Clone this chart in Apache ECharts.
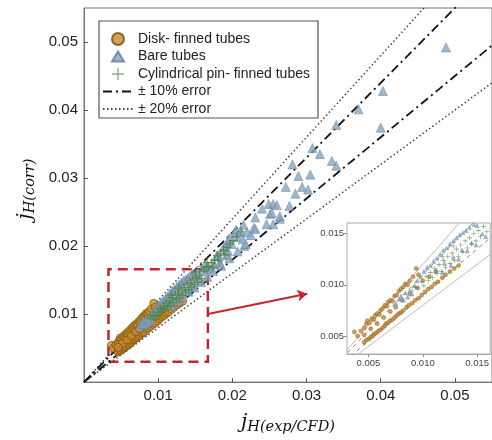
<!DOCTYPE html>
<html>
<head>
<meta charset="utf-8">
<script src="https://cdn.jsdelivr.net/npm/echarts@6/dist/echarts.min.js"></script>
<style>html,body{margin:0;padding:0;background:#fff;}#c{width:492px;height:440px;}</style>
</head>
<body>
<div id="c"></div>
<script>
// ---- data ----
const disk = [
  [0.0037,0.0054],[0.0040,0.0050],[0.0043,0.0055],[0.0046,0.0058],[0.0048,0.0062],[0.0049,0.0065],
  [0.0051,0.0063],[0.0053,0.0067],[0.0055,0.0066],[0.0056,0.0070],[0.0058,0.0072],[0.0060,0.0071],
  [0.0061,0.0075],[0.0063,0.0077],[0.0065,0.0080],[0.0067,0.0079],[0.0068,0.0083],[0.0070,0.0085],
  [0.0072,0.0084],[0.0074,0.0089],[0.0076,0.0090],[0.0078,0.0094],[0.0080,0.0096],[0.0082,0.0098],
  [0.0084,0.0101],[0.0086,0.0100],[0.0088,0.0104],[0.0091,0.0108],[0.0094,0.0116],[0.0096,0.0110],
  [0.0046,0.0044],[0.0048,0.0046],[0.0050,0.0047],[0.0052,0.0049],[0.0054,0.0050],[0.0055,0.0052],
  [0.0057,0.0053],[0.0059,0.0055],[0.0061,0.0056],[0.0063,0.0058],[0.0065,0.0060],[0.0066,0.0062],
  [0.0068,0.0063],[0.0070,0.0065],[0.0072,0.0066],[0.0074,0.0068],[0.0076,0.0070],[0.0078,0.0072],
  [0.0080,0.0073],[0.0082,0.0075],[0.0085,0.0078],[0.0087,0.0080],[0.0090,0.0082],[0.0093,0.0085],
  [0.0096,0.0087],[0.0099,0.0090],[0.0102,0.0093],[0.0105,0.0096],[0.0108,0.0098],[0.0111,0.0101],
  [0.0114,0.0103],[0.0118,0.0107],[0.0121,0.0110],[0.0125,0.0113],[0.0129,0.0116],[0.0133,0.0119],
  [0.0052,0.0057],[0.0058,0.0062],[0.0064,0.0068],[0.0070,0.0074],[0.0075,0.0078],[0.0081,0.0085],
  [0.0088,0.0091],[0.0095,0.0097],[0.0100,0.0104],[0.0106,0.0108],[0.0112,0.0113],[0.0046,0.0051]
];
const bare = [
  [0.0075,0.0082],[0.0078,0.0086],[0.0080,0.0089],[0.0082,0.0085],[0.0084,0.0092],[0.0086,0.0088],
  [0.0088,0.0094],[0.0090,0.0091],[0.0092,0.0099],[0.0095,0.0104],[0.0098,0.0108],[0.0101,0.0113],
  [0.0104,0.0117],[0.0107,0.0119],[0.0110,0.0123],[0.0113,0.0126],[0.0116,0.0130],[0.0119,0.0134],
  [0.0122,0.0136],[0.0125,0.0140],[0.0128,0.0143],[0.0131,0.0146],[0.0134,0.0149],[0.0137,0.0151],
  [0.0140,0.0153],[0.0143,0.0156],[0.0147,0.0159],[0.0150,0.0158],[0.0153,0.0161],[0.0112,0.0114],
  [0.0120,0.0121],[0.0128,0.0127],[0.0136,0.0134],[0.0145,0.0141],[0.0155,0.0150],[0.0160,0.0166],
  [0.0163,0.0172],[0.0167,0.0169],[0.0170,0.0166],[0.0175,0.0173],[0.0183,0.0176],[0.0179,0.0186],
  [0.0181,0.0186],[0.0192,0.0187],[0.0190,0.0198],[0.0188,0.0198],[0.0194,0.0193],[0.0194,0.0206],
  [0.0199,0.0203],[0.0216,0.0200],[0.0203,0.0219],[0.0207,0.0213],[0.0211,0.0222],[0.0214,0.0210],
  [0.0220,0.0220],[0.0225,0.0216],[0.0229,0.0227],[0.0231,0.0225],[0.0231,0.0242],[0.0255,0.0232],
  [0.0251,0.0247],[0.0264,0.0240],[0.0264,0.0244],[0.0253,0.0249],[0.0249,0.0262],[0.0255,0.0262],
  [0.0260,0.0260],[0.0277,0.0259],[0.0285,0.0277],[0.0294,0.0287],[0.0302,0.0283],[0.0305,0.0305],
  [0.0281,0.0320],[0.0334,0.0325],[0.0340,0.0318],[0.0308,0.0344],[0.0340,0.0378],[0.0400,0.0374],
  [0.0370,0.0401],[0.0403,0.0428],[0.0488,0.0492],
  [0.0118,0.0112],[0.0126,0.0119],[0.0133,0.0125],[0.0141,0.0133],[0.0149,0.0139],[0.0158,0.0147],
  [0.0166,0.0155],[0.0174,0.0163],[0.0185,0.0171],[0.0196,0.0182],[0.0207,0.0192],[0.0218,0.0203],
  [0.0196,0.0212],[0.0205,0.0224],[0.0215,0.0231],[0.0240,0.0255],[0.0246,0.0232],[0.0272,0.0287],
  [0.0289,0.0303],[0.0318,0.0335]
];
const pin = [
  [0.0090,0.0094],[0.0093,0.0098],[0.0096,0.0097],[0.0099,0.0103],[0.0101,0.0099],[0.0103,0.0108],
  [0.0105,0.0104],[0.0107,0.0112],[0.0109,0.0107],[0.0111,0.0116],[0.0113,0.0111],[0.0115,0.0120],
  [0.0117,0.0113],[0.0119,0.0124],[0.0121,0.0117],[0.0123,0.0128],[0.0125,0.0121],[0.0127,0.0131],
  [0.0129,0.0124],[0.0131,0.0135],[0.0133,0.0128],[0.0135,0.0139],[0.0137,0.0132],[0.0139,0.0143],
  [0.0141,0.0136],[0.0143,0.0146],[0.0145,0.0140],[0.0147,0.0150],[0.0149,0.0143],[0.0151,0.0153],
  [0.0153,0.0147],[0.0156,0.0157],[0.0159,0.0152],[0.0162,0.0163],[0.0165,0.0168],[0.0168,0.0170],
  [0.0172,0.0175],[0.0176,0.0179],[0.0180,0.0186],[0.0184,0.0189],[0.0188,0.0194],[0.0193,0.0198],
  [0.0197,0.0203],[0.0201,0.0208],
  [0.0150,0.0162],[0.0158,0.0170],[0.0166,0.0176],[0.0174,0.0169],[0.0182,0.0178],[0.0190,0.0187],
  [0.0206,0.0214],[0.0212,0.0221],[0.0128,0.0138],[0.0118,0.0128]
];
// error lines (y = 1.1x, 0.9x, 1.2x, 0.8x) as end points
const line10Up = [[0, 0], [0.06, 0.066]];
const line10Lo = [[0, 0], [0.06, 0.054]];
const line20Up = [[0, 0], [0.06, 0.072]];
const line20Lo = [[0, 0], [0.06, 0.048]];
// tick labels
const mainTicks = [0.01, 0.02, 0.03, 0.04, 0.05];
const insetTicks = [0.005, 0.010, 0.015];
// zoom box and arrow (data coords)
const zoomBox = [[0.0033, 0.0030], [0.0167, 0.0166]];
const arrowPts = [[0.0167, 0.0100], [0.0301, 0.0130]];

const names = ['Disk- finned tubes', 'Bare tubes', 'Cylindrical pin- finned tubes', '\u00b1 10% error', '\u00b1 20% error'];
const cOrange = '#c98a2c', cOrangeB = '#6e4d12';
const cBlue = '#86a5c0', cBlueB = '#5c7c98';
const cGreen = '#4f8240';
const plusPath = 'path://M4.4,0 L5.6,0 L5.6,4.4 L10,4.4 L10,5.6 L5.6,5.6 L5.6,10 L4.4,10 L4.4,5.6 L0,5.6 L0,4.4 L4.4,4.4 Z';
const triPath = 'path://M0,0 M6.5,1 L12.5,11 L0.5,11 Z M13,12';

const serifName = {
  j: {fontFamily: 'DejaVu Serif', fontStyle: 'italic', fontSize: 20, lineHeight: 22, verticalAlign: 'top', color: '#111'},
  s: {fontFamily: 'DejaVu Serif', fontStyle: 'italic', fontSize: 14.5, lineHeight: 15, padding: [12, 0, 0, 0], verticalAlign: 'bottom', color: '#111'}
};
const hide = {color: 'rgba(0,0,0,0)', borderColor: 'rgba(0,0,0,0)', opacity: 0};

const chart = echarts.init(document.getElementById('c'), null, {renderer: 'canvas'});
chart.setOption({
  animation: false,
  backgroundColor: '#fff',
  textStyle: {fontFamily: 'Liberation Sans'},
  grid: [
    {left: 84, top: 8, right: -14, bottom: 57, show: true, borderColor: '#777', borderWidth: 1, backgroundColor: 'transparent'},
    {left: 347, top: 223, right: -4, bottom: 86, show: true, borderColor: '#aaa', borderWidth: 1, backgroundColor: '#fff', z: 5}
  ],
  xAxis: [
    {gridIndex: 0, type: 'value', min: 0, max: 0.055,
     name: '{j|j}{s|H(exp/CFD)}', nameLocation: 'middle', nameGap: 27,
     nameTextStyle: {rich: serifName},
     axisLine: {show: true, lineStyle: {color: '#777'}},
     axisTick: {show: true, inside: true, length: 4, customValues: mainTicks, lineStyle: {color: '#555'}},
     axisLabel: {customValues: mainTicks, formatter: v => v.toFixed(2), fontSize: 15, color: '#222', margin: 6},
     splitLine: {show: false}},
    {gridIndex: 1, type: 'value', min: 0.00302, max: 0.0162,
     axisLine: {show: true, lineStyle: {color: '#aaa'}},
     axisTick: {show: true, length: 3, customValues: insetTicks, lineStyle: {color: '#888'}},
     axisLabel: {customValues: insetTicks, formatter: v => v.toFixed(3), fontSize: 9.5, color: '#444', margin: 4},
     splitLine: {show: false}}
  ],
  yAxis: [
    {gridIndex: 0, type: 'value', min: 0, max: 0.055,
     name: '{j|j}{s|H(corr)}', nameLocation: 'middle', nameGap: 41,
     nameTextStyle: {rich: serifName, padding: [0, 0, 0, 12]},
     axisLine: {show: true, lineStyle: {color: '#777'}},
     axisTick: {show: true, inside: true, length: 4, customValues: mainTicks, lineStyle: {color: '#555'}},
     axisLabel: {customValues: mainTicks, formatter: v => v.toFixed(2), fontSize: 15, color: '#222', margin: 6},
     splitLine: {show: false}},
    {gridIndex: 1, type: 'value', min: 0.00324, max: 0.01605,
     axisLine: {show: true, lineStyle: {color: '#aaa'}},
     axisTick: {show: true, length: 3, customValues: insetTicks, lineStyle: {color: '#888'}},
     axisLabel: {customValues: insetTicks, formatter: v => v.toFixed(3), fontSize: 9.5, color: '#444', margin: 3},
     splitLine: {show: false}}
  ],
  legend: {
    data: [
      {name: names[0], icon: 'circle'},
      {name: names[1], icon: triPath},
      {name: names[2], icon: plusPath, itemStyle: {color: '#6f9e60'}},
      {name: names[3], itemStyle: hide},
      {name: names[4], itemStyle: hide}
    ],
    orient: 'vertical', left: 99, top: 21,
    borderColor: '#555', borderWidth: 1.2, backgroundColor: '#fff',
    padding: [11, 8, 2, 3], itemGap: 3.5, itemWidth: 30, itemHeight: 12,
    textStyle: {fontSize: 14, lineHeight: 14, color: '#222', fontFamily: 'Liberation Sans'},
    z: 10
  },
  series: [
    {name: names[4], type: 'line', xAxisIndex: 0, yAxisIndex: 0, data: line20Up, symbol: 'none', clip: true,
     lineStyle: {color: '#444', width: 1.5, type: [1.5, 2.5]}, z: 1},
    {name: names[4], type: 'line', xAxisIndex: 0, yAxisIndex: 0, data: line20Lo, symbol: 'none', clip: true,
     lineStyle: {color: '#444', width: 1.5, type: [1.5, 2.5]}, z: 1},
    {name: names[3], type: 'line', xAxisIndex: 0, yAxisIndex: 0, data: line10Up, symbol: 'none', clip: true,
     lineStyle: {color: '#111', width: 1.8, type: [9, 4, 2, 4]}, z: 1},
    {name: names[3], type: 'line', xAxisIndex: 0, yAxisIndex: 0, data: line10Lo, symbol: 'none', clip: true,
     lineStyle: {color: '#111', width: 1.8, type: [9, 4, 2, 4]}, z: 1},
    {name: names[0], type: 'scatter', xAxisIndex: 0, yAxisIndex: 0, data: disk, symbol: 'circle', symbolSize: 8,
     itemStyle: {color: cOrange, borderColor: cOrangeB, borderWidth: 0.8}, z: 2},
    {name: names[1], type: 'scatter', xAxisIndex: 0, yAxisIndex: 0, data: bare, symbol: 'triangle', symbolSize: 9,
     itemStyle: {color: cBlue, borderColor: cBlueB, borderWidth: 0.6}, z: 3},
    {name: names[2], type: 'scatter', xAxisIndex: 0, yAxisIndex: 0, data: pin, symbol: plusPath, symbolSize: 9,
     itemStyle: {color: cGreen}, z: 4},
    // zoom box and arrow
    {name: 'zoom', type: 'scatter', xAxisIndex: 0, yAxisIndex: 0, data: [], z: 6,
     markArea: {silent: true, label: {show: false},
       itemStyle: {color: 'rgba(0,0,0,0)', borderColor: '#c3262c', borderWidth: 2.5, borderType: [10, 6]},
       data: [[{coord: zoomBox[0]}, {coord: zoomBox[1]}]]},
     markLine: {silent: true, symbol: ['none', 'arrow'], symbolSize: [9, 10], label: {show: false},
       lineStyle: {color: '#c3262c', width: 2, type: 'solid'},
       data: [[{coord: arrowPts[0]}, {coord: arrowPts[1]}]]}},
    // inset
    {name: 'in20u', type: 'line', xAxisIndex: 1, yAxisIndex: 1, data: line20Up, symbol: 'none', clip: true,
     lineStyle: {color: '#bbb', width: 1}, z: 6},
    {name: 'in20l', type: 'line', xAxisIndex: 1, yAxisIndex: 1, data: line20Lo, symbol: 'none', clip: true,
     lineStyle: {color: '#bbb', width: 1}, z: 6},
    {name: 'in10u', type: 'line', xAxisIndex: 1, yAxisIndex: 1, data: line10Up, symbol: 'none', clip: true,
     lineStyle: {color: '#888', width: 1, type: [4, 4]}, z: 6},
    {name: 'in10l', type: 'line', xAxisIndex: 1, yAxisIndex: 1, data: line10Lo, symbol: 'none', clip: true,
     lineStyle: {color: '#888', width: 1, type: [4, 4]}, z: 6},
    {name: names[0], type: 'scatter', xAxisIndex: 1, yAxisIndex: 1, data: disk, symbol: 'circle', symbolSize: 4, clip: true,
     itemStyle: {color: cOrange, borderColor: cOrangeB, borderWidth: 0.5}, z: 7},
    {name: names[1], type: 'scatter', xAxisIndex: 1, yAxisIndex: 1, data: bare, symbol: 'triangle', symbolSize: 4, clip: true,
     itemStyle: {color: cBlue, borderColor: cBlueB, borderWidth: 0.4}, z: 7},
    {name: names[2], type: 'scatter', xAxisIndex: 1, yAxisIndex: 1, data: pin, symbol: plusPath, symbolSize: 5, clip: true,
     itemStyle: {color: cGreen}, z: 7}
  ]
});
</script>
</body>
</html>
